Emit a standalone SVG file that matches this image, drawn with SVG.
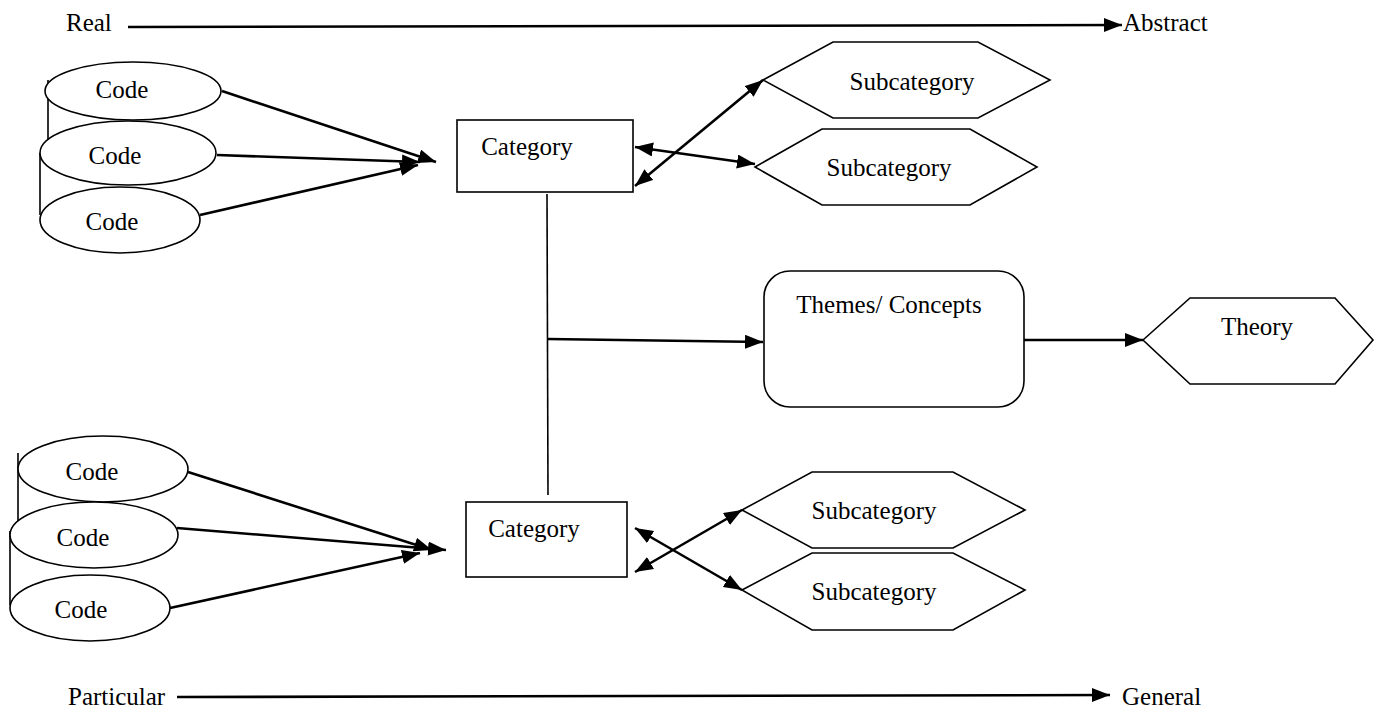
<svg xmlns="http://www.w3.org/2000/svg" width="1377" height="711" viewBox="0 0 1377 711">
<defs>
<marker id="ah" markerUnits="userSpaceOnUse" markerWidth="20" markerHeight="16" refX="18" refY="7" orient="auto-start-reverse"><path d="M0,0 L18,7 L0,14 z" fill="#000"/></marker>
<style>
.t{font-family:"Liberation Serif","Times New Roman",serif;font-size:25px;fill:#000}
.m{text-anchor:middle}
.s{fill:#fff;stroke:#000;stroke-width:1.6}
.c{fill:none;stroke:#000;stroke-width:2.6}
.l{fill:none;stroke:#000;stroke-width:1.6}
</style>
</defs>
<rect width="1377" height="711" fill="#fff"/>
<g id="axis-top">
<text class="t" x="66" y="31" font-size="24">Real</text>
<text class="t" x="1123" y="31" font-size="24">Abstract</text>
</g>
<g id="axis-bottom">
<text class="t" x="68" y="705" font-size="25">Particular</text>
<text class="t" x="1122" y="705" font-size="24">General</text>
</g>
<g id="codes-top">
<path class="l" d="M48,80 V153 H42 M40,153 V215"/>
<ellipse class="s" cx="133" cy="91" rx="88" ry="29"/>
<ellipse class="s" cx="128" cy="153" rx="88" ry="32"/>
<ellipse class="s" cx="120" cy="220" rx="80" ry="33"/>
<text class="t m" x="122" y="98">Code</text>
<text class="t m" x="115" y="164">Code</text>
<text class="t m" x="112" y="230">Code</text>
</g>
<g id="codes-bottom">
<path class="l" d="M18,453 V531 H12 M10,531 V605"/>
<ellipse class="s" cx="103" cy="469" rx="85" ry="33"/>
<ellipse class="s" cx="94" cy="535" rx="84" ry="33"/>
<ellipse class="s" cx="90" cy="608" rx="80" ry="33"/>
<text class="t m" x="92" y="480">Code</text>
<text class="t m" x="83" y="546">Code</text>
<text class="t m" x="81" y="618">Code</text>
</g>
<g id="category-top">
<rect class="s" x="457" y="120" width="176" height="72"/>
<text class="t m" x="527" y="155">Category</text>
</g>
<g id="category-bottom">
<rect class="s" x="466" y="502" width="161" height="75"/>
<text class="t m" x="534" y="537">Category</text>
</g>
<g id="sub1">
<polygon class="s" points="763,80 833,42 978,42 1050,80 978,118 833,118"/>
<text class="t m" x="912" y="90">Subcategory</text>
</g>
<g id="sub2">
<polygon class="s" points="755,167 822,129 970,129 1037,167 970,205 822,205"/>
<text class="t m" x="889" y="176">Subcategory</text>
</g>
<g id="sub3">
<polygon class="s" points="742,510 812,472 953,472 1025,510 953,548 812,548"/>
<text class="t m" x="874" y="519">Subcategory</text>
</g>
<g id="sub4">
<polygon class="s" points="742,590 812,553 953,553 1025,590 953,630 812,630"/>
<text class="t m" x="874" y="600">Subcategory</text>
</g>
<g id="themes">
<rect class="s" x="764" y="271" width="260" height="136" rx="26"/>
<text class="t m" x="889" y="313">Themes/ Concepts</text>
</g>
<g id="theory">
<polygon class="s" points="1143,340 1190,298 1335,298 1373,340 1335,384 1190,384"/>
<text class="t m" x="1257" y="335">Theory</text>
</g>
<g id="connectors">
<line class="c" x1="128" y1="27" x2="1122" y2="25" marker-end="url(#ah)"/>
<line class="c" x1="177" y1="697" x2="1110" y2="695" marker-end="url(#ah)"/>
<line class="c" x1="222" y1="91" x2="436" y2="162" marker-end="url(#ah)"/>
<line class="c" x1="217" y1="155" x2="420" y2="162" marker-end="url(#ah)"/>
<line class="c" x1="200" y1="215" x2="418" y2="165" marker-end="url(#ah)"/>
<line class="c" x1="188" y1="472" x2="432" y2="550" marker-end="url(#ah)"/>
<line class="c" x1="177" y1="528" x2="446" y2="550" marker-end="url(#ah)"/>
<line class="c" x1="170" y1="608" x2="420" y2="553" marker-end="url(#ah)"/>
<line class="c" x1="635" y1="186" x2="763" y2="80" marker-start="url(#ah)" marker-end="url(#ah)"/>
<line class="c" x1="635" y1="147" x2="755" y2="164" marker-start="url(#ah)" marker-end="url(#ah)"/>
<line class="c" x1="635" y1="528" x2="742" y2="590" marker-start="url(#ah)" marker-end="url(#ah)"/>
<line class="c" x1="635" y1="572" x2="742" y2="510" marker-start="url(#ah)" marker-end="url(#ah)"/>
<line class="l" x1="547" y1="194" x2="548" y2="495"/>
<line class="c" x1="548" y1="339" x2="763" y2="342" marker-end="url(#ah)"/>
<line class="c" x1="1024" y1="340" x2="1143" y2="340" marker-end="url(#ah)"/>
</g>
</svg>
